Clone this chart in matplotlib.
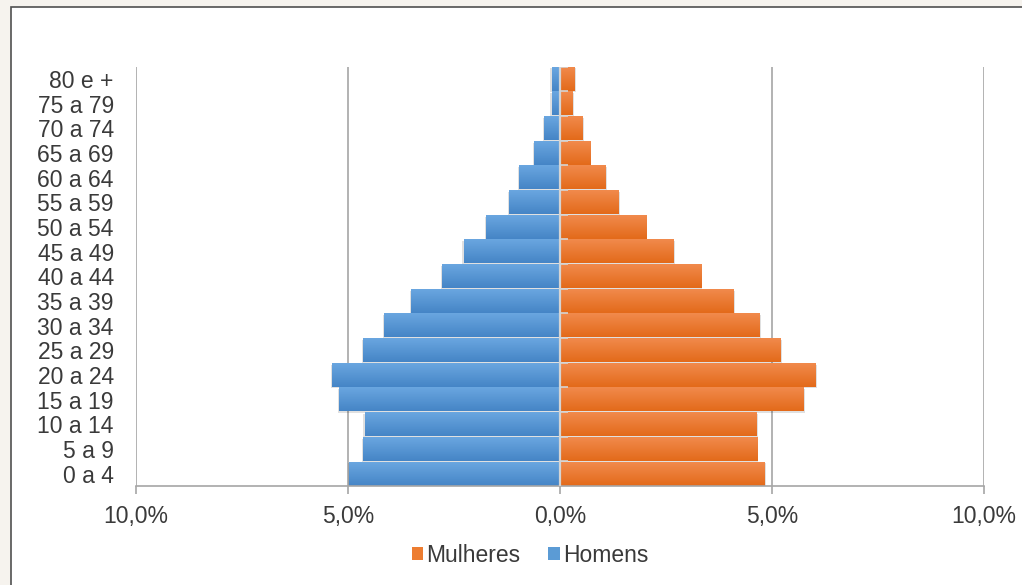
import numpy as np
import matplotlib
matplotlib.use('Agg')
import matplotlib.pyplot as plt
from matplotlib.patches import Rectangle, Patch
from matplotlib.colors import LinearSegmentedColormap

# Faixas etarias (de baixo para cima) e percentuais da populacao
faixas = ['0 a 4', '5 a 9', '10 a 14', '15 a 19', '20 a 24', '25 a 29',
          '30 a 34', '35 a 39', '40 a 44', '45 a 49', '50 a 54', '55 a 59',
          '60 a 64', '65 a 69', '70 a 74', '75 a 79', '80 e +']
homens = [4.98, 4.65, 4.61, 5.21, 5.38, 4.65, 4.15, 3.51, 2.78, 2.27,
          1.74, 1.20, 0.97, 0.61, 0.38, 0.20, 0.20]
mulheres = [4.83, 4.65, 4.64, 5.74, 6.03, 5.20, 4.70, 4.10, 3.33, 2.68,
            2.03, 1.39, 1.08, 0.71, 0.53, 0.29, 0.35]
xticks = [-10, -5, 0, 5, 10]

plt.rcParams['font.family'] = ['Liberation Sans', 'DejaVu Sans']
texto = '#3A3A3A'

fig = plt.figure(figsize=(10.22, 5.85), dpi=100)
fig.patch.set_facecolor('#F6F3EE')
# painel branco do grafico
painel = Rectangle((11 / 1022, -0.1), 1.1, 1.1 - 7 / 585,
                   transform=fig.transFigure, facecolor='white',
                   edgecolor='#505050', linewidth=1.2, zorder=-10)
fig.patches.append(painel)

ax = fig.add_axes([136 / 1022, 1 - 486 / 585, (984 - 136) / 1022, (486 - 66.5) / 585])
ax.set_facecolor('none')
ax.set_zorder(5)

y = np.arange(len(faixas))
h = 0.96

cmap_h = LinearSegmentedColormap.from_list('h', ['#4585C6', '#6AA6E0'])
cmap_m = LinearSegmentedColormap.from_list('m', ['#E36A1A', '#F18A4C'])
grad = np.linspace(0, 1, 64).reshape(-1, 1)

def barras(valores, sinal, cmap):
    for yi, v in zip(y, valores):
        x0, x1 = sorted([0, sinal * v])
        # sombra suave
        ax.add_patch(Rectangle((x0 + 0.03 * sinal, yi - h / 2 - 0.06), x1 - x0, h,
                               facecolor='#000000', alpha=0.12, lw=0, zorder=1))
        ax.imshow(grad, extent=[x0, x1, yi - h / 2, yi + h / 2], origin='lower',
                  aspect='auto', cmap=cmap, zorder=2, interpolation='bilinear')

barras(homens, -1, cmap_h)
barras(mulheres, 1, cmap_m)

# linhas de grade verticais
for xt in xticks:
    if xt != 0:
        ax.axvline(xt, color='#A6A6A6', lw=1.2, zorder=0.5)
ax.axvline(0, color='#D4D4D4', lw=1.6, zorder=3)
# marcas do eixo de categorias
ax.hlines(np.arange(len(faixas)) + 0.5, 0, 0.2, color='#D4D4D4', lw=1.2, zorder=3)

ax.set_xlim(-10, 10)
ax.set_ylim(-0.5, len(faixas) - 0.5)
ax.set_xticks(xticks)
ax.set_xticklabels([f'{abs(v):.1f}%'.replace('.', ',') for v in xticks],
                   fontsize=16.5, color=texto)
ax.set_yticks(y)
ax.set_yticklabels(faixas, fontsize=16.5, color=texto)
ax.tick_params(axis='y', length=0, pad=16)
ax.tick_params(axis='x', length=6, width=1.2, color='#A6A6A6', pad=8)

for s in ['top', 'right', 'left']:
    ax.spines[s].set_visible(False)
ax.spines['bottom'].set_color('#A6A6A6')
ax.spines['bottom'].set_linewidth(1.2)

handles = [Patch(facecolor='#ED7D31', label='Mulheres'),
           Patch(facecolor='#5B9BD5', label='Homens')]
fig.legend(handles=handles, loc='center', bbox_to_anchor=(530 / 1022, 1 - 555 / 585),
           ncol=2, frameon=False, fontsize=16.5, labelcolor=texto,
           handlelength=0.5, handleheight=0.5, handletextpad=0.15,
           columnspacing=1.2)

fig.savefig('out.png', dpi=100, facecolor=fig.get_facecolor())
